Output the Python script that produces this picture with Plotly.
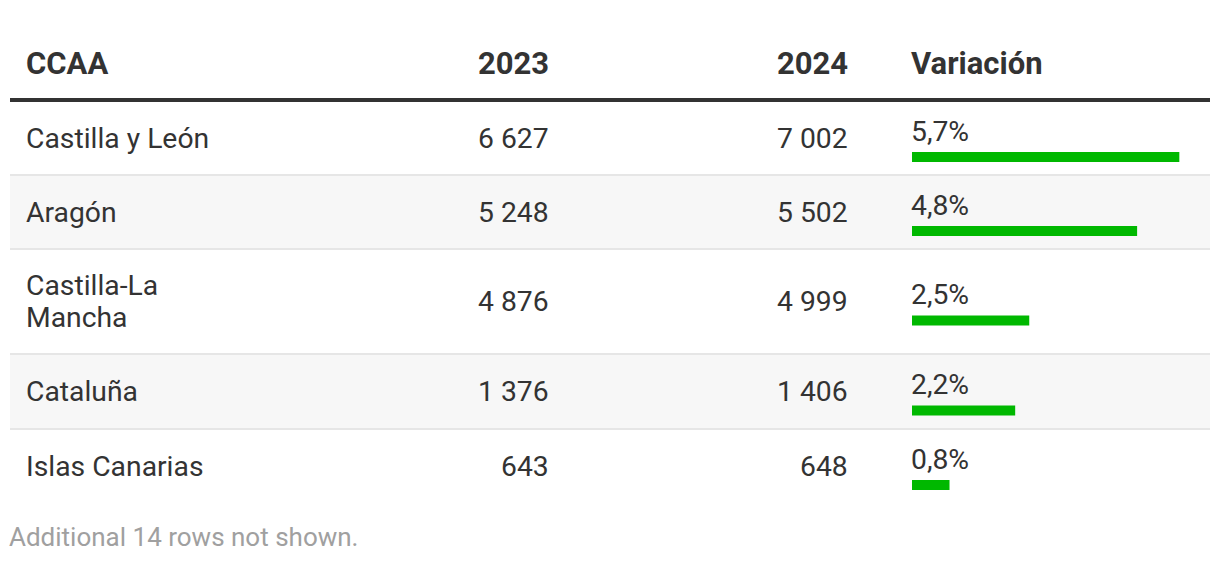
import plotly.graph_objects as go

# ---- data ----
ccaa = ["Castilla y León", "Aragón", "Castilla-La<br>Mancha", "Cataluña", "Islas Canarias"]
v2023 = [6627, 5248, 4876, 1376, 643]
v2024 = [7002, 5502, 4999, 1406, 648]
variacion = [5.7, 4.8, 2.5, 2.2, 0.8]
headers = ["CCAA", "2023", "2024", "Variación"]
footer = "Additional 14 rows not shown."

# ---- layout constants (pixels) ----
W, H = 1220, 562
LEFT, RIGHT = 10, 1210
HEADER_Y = 63
RULE_Y = 100
row_heights = [74, 74, 105, 75, 74]
row_top0 = 101
PAD = 3
LINE_H = 32.5
COL_NAME_X = 27 - PAD
COL_2023_X = 548 + PAD
COL_2024_X = 847 + PAD
COL_VAR_X = 912
PX_PER_UNIT = 46.9
TEXT = "#333333"
GREEN = "#00b800"
FONT = "Roboto"

tops = []
t = row_top0
for h in row_heights:
    tops.append(t)
    t += h
bottoms = [a + h for a, h in zip(tops, row_heights)]
centers = [(a + b) / 2 for a, b in zip(tops, bottoms)]

def fmt_int(v):
    return f"{v:,}".replace(",", " ")

def fmt_pct(v):
    return f"{v:.1f}%".replace(".", ",")

shapes = []
annotations = []

# stripes
for i, (a, b) in enumerate(zip(tops, bottoms)):
    if i % 2 == 1:
        shapes.append(dict(type="rect", xref="x", yref="y", x0=LEFT, x1=RIGHT, y0=a, y1=b,
                           fillcolor="#f7f7f7", line=dict(width=0), layer="below"))
# separators
for i, b in enumerate(bottoms[:-1]):
    shapes.append(dict(type="line", xref="x", yref="y", x0=LEFT, x1=RIGHT, y0=b, y1=b,
                       line=dict(color="#e6e6e6", width=2), layer="below"))
# header rule
shapes.append(dict(type="line", xref="x", yref="y", x0=LEFT, x1=RIGHT, y0=RULE_Y, y1=RULE_Y,
                   line=dict(color="#333333", width=4)))

hfont = dict(family=FONT, size=31, color=TEXT, weight="bold")
bfont = dict(family=FONT, size=28.3, color=TEXT)

hx = [COL_NAME_X, COL_2023_X, COL_2024_X, COL_VAR_X - PAD]
hanchor = ["left", "right", "right", "left"]
for txt, x, xa in zip(headers, hx, hanchor):
    annotations.append(dict(x=x, y=HEADER_Y, xref="x", yref="y", text=f"<b>{txt}</b>",
                            showarrow=False, xanchor=xa, yanchor="middle", font=hfont))

for i in range(len(ccaa)):
    c = centers[i]
    lines = ccaa[i].split("<br>")
    n = len(lines)
    for k, ln in enumerate(lines):
        annotations.append(dict(x=COL_NAME_X, y=c + (k - (n - 1) / 2) * LINE_H, xref="x", yref="y",
                                text=ln, showarrow=False, xanchor="left", yanchor="middle",
                                align="left", font=bfont))
    annotations.append(dict(x=COL_2023_X, y=c, xref="x", yref="y", text=fmt_int(v2023[i]),
                            showarrow=False, xanchor="right", yanchor="middle", font=bfont))
    annotations.append(dict(x=COL_2024_X, y=c, xref="x", yref="y", text=fmt_int(v2024[i]),
                            showarrow=False, xanchor="right", yanchor="middle", font=bfont))
    annotations.append(dict(x=COL_VAR_X - PAD, y=c - 7, xref="x", yref="y", text=fmt_pct(variacion[i]),
                            showarrow=False, xanchor="left", yanchor="middle", font=bfont))

annotations.append(dict(x=LEFT - PAD, y=537, xref="x", yref="y", text=footer, showarrow=False,
                        xanchor="left", yanchor="middle",
                        font=dict(family=FONT, size=26, color="#a0a0a0")))

bar_y = [c + 19 for c in centers]
fig = go.Figure()
fig.add_trace(go.Bar(x=variacion, y=bar_y, orientation="h", width=10,
                     marker=dict(color=GREEN, line=dict(width=0)),
                     xaxis="x2", yaxis="y", hoverinfo="skip", showlegend=False))

x2_width_px = W - COL_VAR_X
fig.update_layout(
    width=W, height=H,
    margin=dict(l=0, r=0, t=0, b=0),
    paper_bgcolor="white", plot_bgcolor="rgba(0,0,0,0)",
    xaxis=dict(range=[0, W], domain=[0, 1], visible=False, fixedrange=True),
    xaxis2=dict(range=[0, x2_width_px / PX_PER_UNIT], domain=[COL_VAR_X / W, 1],
                anchor="y", visible=False, fixedrange=True),
    yaxis=dict(range=[H, 0], domain=[0, 1], visible=False, fixedrange=True),
    shapes=shapes, annotations=annotations,
)
fig.write_html("out.html", config={"displayModeBar": False},
               post_script="document.body.style.margin='0';document.body.style.overflow='hidden';")
